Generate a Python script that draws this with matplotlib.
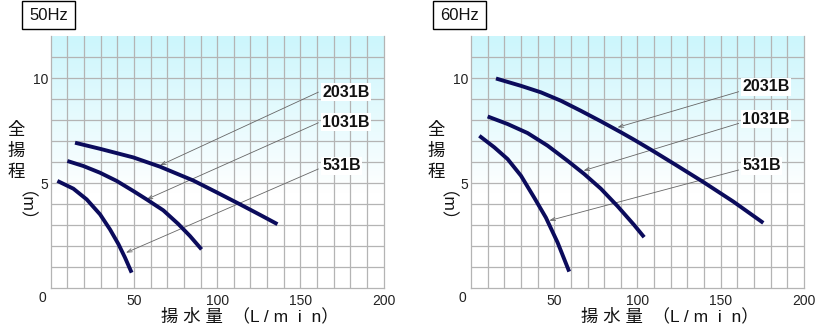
import numpy as np
import matplotlib.pyplot as plt
from matplotlib.colors import LinearSegmentedColormap

plt.rcParams['font.family'] = ['Liberation Sans', 'Noto Sans CJK JP']

# 50Hz curves (flow L/min, head m)
q50_2031 = [14.6, 29.6, 49.6, 65.6, 85.6, 99.6, 113.6, 125.6, 136.2]
h50_2031 = [6.92, 6.63, 6.22, 5.78, 5.12, 4.56, 3.99, 3.49, 3.04]
q50_1031 = [10, 19.6, 29.6, 39.6, 49.6, 57.6, 67.6, 76.6, 83.6, 90.6]
h50_1031 = [6.05, 5.81, 5.49, 5.1, 4.62, 4.22, 3.7, 3.05, 2.48, 1.84]
q50_531 = [4, 13.6, 21.6, 29.6, 35.6, 40.6, 44.6, 48.6]
h50_531 = [5.1, 4.73, 4.22, 3.51, 2.79, 2.1, 1.45, 0.73]

# 60Hz curves
q60_2031 = [15, 30, 42, 54, 66, 78, 90, 98, 109.5, 123.5, 139.5, 157.5, 175.6]
h60_2031 = [9.98, 9.63, 9.32, 8.92, 8.44, 7.94, 7.42, 7.06, 6.52, 5.84, 5.05, 4.12, 3.1]
q60_1031 = [10, 22, 34, 46, 58, 68, 78, 88, 98, 104]
h60_1031 = [8.17, 7.81, 7.38, 6.78, 6.06, 5.43, 4.73, 3.9, 3.0, 2.42]
q60_531 = [5, 14, 22, 30, 38, 45, 52, 59]
h60_531 = [7.25, 6.7, 6.14, 5.35, 4.3, 3.35, 2.17, 0.78]

models = ['2031B', '1031B', '531B']
# leader lines: (label y, line start y, arrow tip x, arrow tip y)
lead50 = [(9.33, 9.33, 65.6, 5.84), (7.9, 7.87, 57.6, 4.22), (5.82, 5.67, 45.2, 1.68)]
lead60 = [(9.59, 9.35, 88.0, 7.65), (8.03, 7.84, 67.6, 5.59), (5.82, 5.62, 47.0, 3.21)]

xticks = [50, 100, 150, 200]
yticks = [5, 10]

curve_color = '#0b0b5c'
grid_color = '#b4b4b4'
bg = LinearSegmentedColormap.from_list('bg', [(1, 1, 1), (0.80, 0.965, 0.99)])

fig = plt.figure(figsize=(8.21, 3.28), dpi=100)

panels = [
    (0.0618, '50Hz', 21, [(q50_2031, h50_2031), (q50_1031, h50_1031), (q50_531, h50_531)], lead50),
    (0.5737, '60Hz', 432, [(q60_2031, h60_2031), (q60_1031, h60_1031), (q60_531, h60_531)], lead60),
]

for x0, title, box_x, curves, leads in panels:
    ax = fig.add_axes([x0, 0.122, 0.4055, 0.768])
    ax.set_xlim(0, 200)
    ax.set_ylim(0, 12)

    yy = np.linspace(0, 12, 240).reshape(-1, 1)
    grad = np.clip((yy - 4.5) / 7.5, 0, 1)
    ax.imshow(grad, extent=[0, 200, 0, 12], origin='lower', aspect='auto',
              cmap=bg, vmin=0, vmax=1, zorder=0, interpolation='bilinear')

    for v in range(10, 200, 10):
        ax.axvline(v, color=grid_color, lw=0.9, zorder=1)
    for v in range(1, 12):
        ax.axhline(v, color=grid_color, lw=0.9, zorder=1)
    for s in ax.spines.values():
        s.set_color(grid_color)
        s.set_linewidth(0.9)
    ax.spines['top'].set_visible(False)

    for q, h in curves:
        ax.plot(q, h, color=curve_color, lw=2.8, solid_capstyle='butt',
                solid_joinstyle='round', zorder=3)

    for name, (ly, sy, tx, ty) in zip(models, leads):
        ax.annotate('', xy=(tx, ty), xytext=(160.8, sy),
                    arrowprops=dict(arrowstyle='->,head_length=0.35,head_width=0.12',
                                    color='#666666', lw=0.6, shrinkA=0, shrinkB=0),
                    zorder=2)
        ax.text(163, ly, name, fontsize=11.5, fontweight='bold', ha='left', va='center',
                color='#111111', zorder=4,
                bbox=dict(facecolor='white', edgecolor='none', pad=1.0))

    ax.set_xticks(xticks)
    ax.set_yticks(yticks)
    ax.set_xticklabels([str(v) for v in xticks])
    ax.set_yticklabels([str(v) for v in yticks])
    ax.tick_params(axis='x', length=0, labelsize=10, colors='#222222', pad=4)
    ax.tick_params(axis='y', length=0, labelsize=10, colors='#222222', pad=2)
    ax.text(-0.026, -0.04, '0', transform=ax.transAxes, fontsize=10, color='#222222',
            ha='center', va='center')

    # vertical y label
    lx = x0 - 0.042
    fig.text(lx, 1 - 151 / 328, '全\n揚\n程', fontsize=12.5, ha='center', va='center',
             linespacing=1.45, color='#111111')
    fig.text(lx, 1 - 216 / 328, '（m）', fontsize=12.5, ha='center', va='center',
             rotation=270, color='#111111')

    fig.text(x0 + 0.2425, 1 - 316 / 328, '揚 水 量  （L / m  i  n）', fontsize=12.5,
             ha='center', va='center', color='#111111')

    fig.text((box_x + 27.5) / 821, 1 - 15 / 328, title, fontsize=12, ha='center',
             va='center', color='#111111',
             bbox=dict(facecolor='white', edgecolor='black', lw=1, boxstyle='square,pad=0.4'))

fig.savefig('out.png', dpi=100)
